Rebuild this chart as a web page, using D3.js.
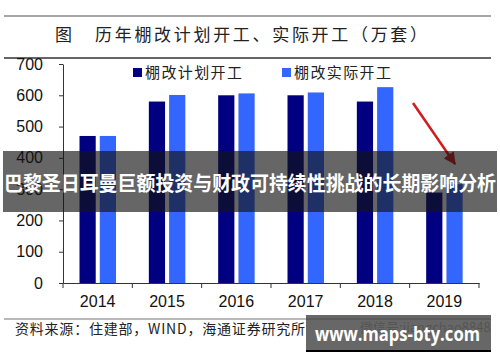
<!DOCTYPE html>
<html><head><meta charset="utf-8">
<script src="https://cdn.jsdelivr.net/npm/d3@7/dist/d3.min.js"></script>
<style>body{margin:0;background:#fff}svg{display:block}</style>
</head><body>
<svg id="c" width="500" height="362"></svg>
<script>
const years = ["2014","2015","2016","2017","2018","2019"];
const planned = [470, 580, 600, 600, 580, 289];
const actual = [470, 601, 606, 609, 626, 316];
const yTicks = [0,100,200,300,400,500,600,700];
const seriesNames = ["棚改计划开工","棚改实际开工"];
const colors = ["#000080","#3366ff"];
const title = "历年棚改计划开工、实际开工（万套）";
const source = "资料来源：住建部，WIND，海通证券研究所";
const banner = "巴黎圣日耳曼巨额投资与财政可持续性挑战的长期影响分析";

const svg = d3.select("#c");
const cjkSerif = "'Noto Sans CJK SC', sans-serif";
const num = "'Liberation Sans', Arial, sans-serif";

// header
svg.append("line").attr("x1",4).attr("x2",491).attr("y1",16).attr("y2",16).attr("stroke","#8a8a8a").attr("stroke-width",1.5);
svg.append("line").attr("x1",4).attr("x2",491).attr("y1",58).attr("y2",58).attr("stroke","#333").attr("stroke-width",1.5);
svg.append("text").attr("x",55).attr("y",41).attr("font-family",cjkSerif).attr("font-size",17).attr("fill","#222").text("图");
svg.append("text").attr("x",95).attr("y",41).attr("font-family",cjkSerif).attr("font-size",17).attr("fill","#222")
  .attr("textLength",332).attr("lengthAdjust","spacing").text(title);

const y = d3.scaleLinear().domain([0,700]).range([283,64]);
const x = d3.scaleBand().domain(years).range([63,479]);
const x1 = d3.scaleBand().domain([0,1]).range([16.5,53]).paddingInner(0.2);

const data = years.map((yr,i)=>({yr, vals:[planned[i], actual[i]]}));
const g = svg.append("g");
g.selectAll("g.grp").data(data).join("g").attr("class","grp")
  .attr("transform",d=>`translate(${x(d.yr)},0)`)
  .selectAll("rect").data(d=>d.vals.map((v,k)=>({v,k}))).join("rect")
  .attr("x",d=>x1(d.k)).attr("width",x1.bandwidth())
  .attr("y",d=>y(d.v)).attr("height",d=>y(0)-y(d.v))
  .attr("fill",d=>colors[d.k]);

// y axis
const ya = svg.append("g").attr("transform","translate(63,0)")
  .call(d3.axisLeft(y).tickValues(yTicks).tickSize(4).tickSizeOuter(0).tickPadding(16));
ya.select(".domain").attr("stroke","#333");
ya.selectAll(".tick line").attr("stroke","#333");
ya.selectAll("text").attr("font-family",num).attr("font-size",16).attr("fill","#111");

// x axis
const xa = svg.append("g").attr("transform","translate(0,283)")
  .call(d3.axisBottom(x).tickSize(0).tickSizeOuter(0).tickPadding(13));
xa.select(".domain").attr("stroke","#333");
xa.selectAll("text").attr("font-family",num).attr("font-size",16).attr("fill","#111");
const edges = years.map(d=>x(d)).concat([x.range()[1]]);
svg.append("g").selectAll("line").data(edges).join("line")
  .attr("x1",d=>d).attr("x2",d=>d).attr("y1",283).attr("y2",288).attr("stroke","#333");

// legend
const legX = [133, 282];
seriesNames.forEach((n,i)=>{
  svg.append("rect").attr("x",legX[i]).attr("y",68).attr("width",9).attr("height",9).attr("fill",colors[i]);
  svg.append("text").attr("x",legX[i]+12).attr("y",78).attr("font-family",cjkSerif).attr("font-size",15).attr("fill","#222")
    .attr("textLength",97).attr("lengthAdjust","spacing").text(n);
});

// red arrow
svg.append("defs").append("marker").attr("id","ah").attr("viewBox","0 0 10 10").attr("refX",9).attr("refY",5)
  .attr("markerWidth",5).attr("markerHeight",5).attr("orient","auto")
  .append("path").attr("d","M0,0L10,5L0,10z").attr("fill","#d01c1c");
svg.append("line").attr("x1",413).attr("y1",103).attr("x2",455).attr("y2",164)
  .attr("stroke","#d01c1c").attr("stroke-width",2.5).attr("marker-end","url(#ah)");

// bottom
svg.append("line").attr("x1",4).attr("x2",491).attr("y1",319).attr("y2",319).attr("stroke","#777").attr("stroke-width",1.2);
svg.append("text").attr("x",15).attr("y",334).attr("font-family",cjkSerif).attr("font-size",14).attr("fill","#222")
  .attr("textLength",290).attr("lengthAdjust","spacing").text(source);
svg.append("text").attr("x",360).attr("y",332).attr("font-family",cjkSerif).attr("font-size",13).attr("fill","#999").text("微信号:jiangchao8848");

// banner overlay
svg.append("rect").attr("x",3).attr("y",151).attr("width",494).attr("height",61).attr("fill","rgba(20,20,20,0.65)");
svg.append("text").attr("x",4).attr("y",191).attr("font-family","'Noto Sans CJK SC', sans-serif").attr("font-weight",700)
  .attr("font-size",20).attr("fill","#fff").attr("textLength",492).attr("lengthAdjust","spacingAndGlyphs").text(banner);

// watermark box
svg.append("rect").attr("x",306).attr("y",315).attr("width",185).attr("height",36).attr("fill","rgba(70,70,70,0.82)");
svg.append("line").attr("x1",306).attr("x2",491).attr("y1",351).attr("y2",351).attr("stroke","#000").attr("stroke-width",2);
svg.append("text").attr("x",315).attr("y",341).attr("font-family","'Open Sans', 'DejaVu Sans', sans-serif").attr("font-weight",700)
  .attr("font-size",20).attr("fill","#fff").attr("textLength",165).attr("lengthAdjust","spacingAndGlyphs").text("www.maps-bty.com");
</script>
</body></html>
